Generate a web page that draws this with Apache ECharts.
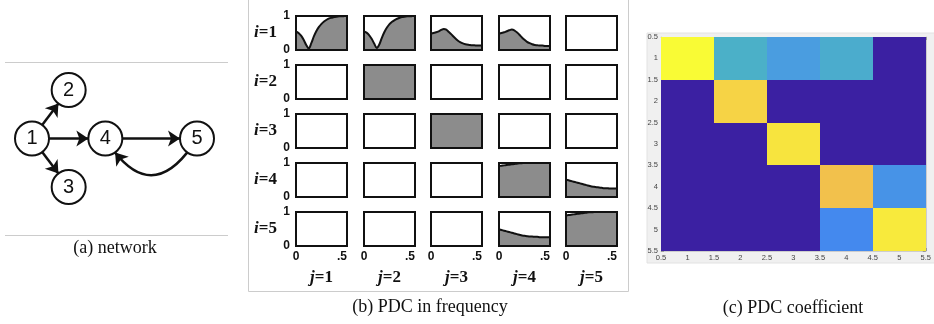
<!DOCTYPE html>
<html>
<head>
<meta charset="utf-8">
<script src="https://cdn.jsdelivr.net/npm/echarts@6/dist/echarts.min.js"></script>
<style>
html, body { margin: 0; padding: 0; background: #fff; }
#chart { width: 934px; height: 324px; }
</style>
</head>
<body>
<div id="chart"></div>
<script>
// (a) network: node layout in graph units, edges as [from, to]
var nodeNames = ['1', '2', '3', '4', '5'];
var nodeX = [0, 1, 1, 2, 4.5];
var nodeY = [1, 2, 0, 1, 1];
var edges = [[0, 1], [0, 2], [0, 3], [3, 4], [4, 3]];

// (b) PDC in frequency
var freq = [0, 0.025, 0.05, 0.075, 0.1, 0.125, 0.15, 0.175, 0.2, 0.225, 0.25,
  0.275, 0.3, 0.325, 0.35, 0.375, 0.4, 0.425, 0.45, 0.475, 0.5];
var pdc11 = [0.55, 0.50, 0.42, 0.30, 0.15, 0.04, 0.20, 0.40, 0.56, 0.68, 0.77,
  0.84, 0.89, 0.93, 0.95, 0.97, 0.98, 0.99, 0.99, 1.0, 1.0];
var pdc12 = [0.55, 0.51, 0.44, 0.33, 0.19, 0.06, 0.16, 0.36, 0.53, 0.66, 0.76,
  0.83, 0.88, 0.92, 0.95, 0.97, 0.98, 0.99, 0.99, 1.0, 1.0];
var pdc13 = [0.48, 0.50, 0.52, 0.55, 0.59, 0.62, 0.60, 0.53, 0.46, 0.38, 0.31,
  0.25, 0.21, 0.18, 0.16, 0.15, 0.14, 0.14, 0.13, 0.13, 0.13];
var pdc14 = [0.48, 0.50, 0.52, 0.55, 0.58, 0.60, 0.58, 0.52, 0.45, 0.37, 0.30,
  0.24, 0.20, 0.17, 0.15, 0.14, 0.13, 0.13, 0.12, 0.12, 0.12];
var pdc44 = [0.91, 0.92, 0.93, 0.94, 0.95, 0.96, 0.97, 0.98, 0.99, 0.995, 1.0,
  1.0, 1.0, 1.0, 1.0, 1.0, 1.0, 1.0, 1.0, 1.0, 1.0];
var pdc45 = [0.51, 0.49, 0.47, 0.45, 0.43, 0.41, 0.39, 0.37, 0.35, 0.33, 0.31,
  0.30, 0.29, 0.28, 0.27, 0.26, 0.26, 0.25, 0.25, 0.25, 0.25];
var pdc54 = [0.49, 0.47, 0.45, 0.43, 0.41, 0.39, 0.37, 0.35, 0.33, 0.31, 0.30,
  0.29, 0.28, 0.28, 0.27, 0.27, 0.26, 0.26, 0.26, 0.26, 0.26];
var pdc55 = [0.90, 0.91, 0.92, 0.93, 0.94, 0.95, 0.96, 0.97, 0.98, 0.99, 0.99,
  1.0, 1.0, 1.0, 1.0, 1.0, 1.0, 1.0, 1.0, 1.0, 1.0];
var pdcOne = [1, 1, 1, 1, 1, 1, 1, 1, 1, 1, 1, 1, 1, 1, 1, 1, 1, 1, 1, 1, 1];
var pdcZero = [0, 0, 0, 0, 0, 0, 0, 0, 0, 0, 0, 0, 0, 0, 0, 0, 0, 0, 0, 0, 0];
var pdcCells = [
  [pdc11, pdc12, pdc13, pdc14, pdcZero],
  [pdcZero, pdcOne, pdcZero, pdcZero, pdcZero],
  [pdcZero, pdcZero, pdcOne, pdcZero, pdcZero],
  [pdcZero, pdcZero, pdcZero, pdc44, pdc45],
  [pdcZero, pdcZero, pdcZero, pdc54, pdc55]
];

// (c) PDC coefficient matrix, row i, column j
var coeff1 = [1.0, 0.50, 0.40, 0.48, 0];
var coeff2 = [0, 0.93, 0, 0, 0];
var coeff3 = [0, 0, 0.96, 0, 0];
var coeff4 = [0, 0, 0, 0.89, 0.35];
var coeff5 = [0, 0, 0, 0.30, 0.97];
var coeffRows = [coeff1, coeff2, coeff3, coeff4, coeff5];
var coeffTicks = [0.5, 5.5];

var chart = echarts.init(document.getElementById('chart'), null, { renderer: 'canvas' });

var grids = [], xAxes = [], yAxes = [], series = [];

// panel (a)
grids.push({ left: 32, top: 90, width: 165, height: 97 });
xAxes.push({ gridIndex: 0, type: 'value', min: 0, max: 4.5, show: false });
yAxes.push({ gridIndex: 0, type: 'value', min: 0, max: 2, show: false });
series.push({
  type: 'graph',
  coordinateSystem: 'cartesian2d',
  xAxisIndex: 0,
  yAxisIndex: 0,
  symbol: 'circle',
  symbolSize: 34,
  itemStyle: { color: '#fff', borderColor: '#111', borderWidth: 2 },
  label: { show: true, position: 'inside', formatter: '{b}', fontSize: 20,
    fontFamily: 'Liberation Sans', color: '#111' },
  edgeSymbol: ['none', 'arrow'],
  edgeSymbolSize: 12,
  lineStyle: { color: '#111', width: 2.5, opacity: 1 },
  data: nodeNames.map(function (n, k) { return { name: n, value: [nodeX[k], nodeY[k]] }; }),
  links: edges.map(function (e) {
    var back = e[0] > e[1];
    return { source: e[0], target: e[1], lineStyle: { curveness: back ? 0.8 : 0 } };
  }),
  silent: true,
  animation: false
});

// panel (b): 5 x 5 small plots
var colLeft = [296, 364, 431, 499, 566];
var rowTop = [16, 65, 114, 163, 212];
var serifName = { fontFamily: 'Liberation Serif', fontWeight: 'bold', fontSize: 17, color: '#111' };
for (var r = 0; r < 5; r++) {
  for (var c = 0; c < 5; c++) {
    var g = grids.length;
    grids.push({ left: colLeft[c], top: rowTop[r], width: 51, height: 34,
      show: true, borderColor: '#111', borderWidth: 2, z: 5 });
    xAxes.push({
      gridIndex: g, type: 'value', min: 0, max: 0.5, interval: 0.5,
      axisLine: { show: false }, axisTick: { show: false }, splitLine: { show: false },
      axisLabel: { show: r === 4, margin: 5, fontSize: 12, fontWeight: 'bold',
        fontFamily: 'Liberation Sans', color: '#111', alignMaxLabel: 'right',
        formatter: function (v) { return v === 0 ? '0' : '.5'; } },
      name: r === 4 ? '{it|j}{up|=' + (c + 1) + '}' : '',
      nameLocation: 'middle', nameGap: 23,
      nameTextStyle: Object.assign({}, serifName, { rich: {
        it: Object.assign({ fontStyle: 'italic' }, serifName),
        up: serifName } })
    });
    yAxes.push({
      gridIndex: g, type: 'value', min: 0, max: 1, interval: 1,
      axisLine: { show: false }, axisTick: { show: false }, splitLine: { show: false },
      axisLabel: { show: c === 0, margin: 6, fontSize: 12, fontWeight: 'bold',
        fontFamily: 'Liberation Sans', color: '#111' },
      name: c === 0 ? '{it|i}{up|=' + (r + 1) + '}' : '',
      nameLocation: 'middle', nameRotate: 0, nameGap: 19,
      nameTextStyle: Object.assign({}, serifName, { align: 'right', rich: {
        it: Object.assign({ fontStyle: 'italic' }, serifName),
        up: serifName } })
    });
    var vals = pdcCells[r][c];
    series.push({
      type: 'line', xAxisIndex: g, yAxisIndex: g,
      data: freq.map(function (f, n) { return [f, vals[n]]; }),
      showSymbol: false, smooth: 0.3,
      lineStyle: { color: '#111', width: 2 },
      areaStyle: { color: '#8c8c8c', opacity: 1 },
      silent: true, animation: false
    });
  }
}

// panel (c): coefficient image
var gc = grids.length;
grids.push({ left: 661, top: 37, width: 271, height: 214 });
var tickFont = { fontSize: 7.5, color: '#444', fontFamily: 'Liberation Sans' };
var xc = xAxes.length;
xAxes.push({
  gridIndex: gc, type: 'value', min: coeffTicks[0], max: coeffTicks[1], interval: 0.5, position: 'bottom',
  axisLine: { show: true, lineStyle: { color: '#aaa', width: 0.5 } },
  axisTick: { show: true, inside: true, length: 3, lineStyle: { color: '#777', width: 0.6 } },
  splitLine: { show: false },
  axisLabel: Object.assign({ margin: 3 }, tickFont)
});
xAxes.push({
  gridIndex: gc, type: 'value', min: coeffTicks[0], max: coeffTicks[1], interval: 0.5, position: 'top',
  axisLine: { show: true, lineStyle: { color: '#aaa', width: 0.5 } },
  axisTick: { show: true, inside: true, length: 3, lineStyle: { color: '#777', width: 0.6 } },
  splitLine: { show: false }, axisLabel: { show: false }
});
var yc = yAxes.length;
yAxes.push({
  gridIndex: gc, type: 'value', min: coeffTicks[0], max: coeffTicks[1], interval: 0.5, inverse: true,
  axisLine: { show: true, lineStyle: { color: '#aaa', width: 0.5 } },
  axisTick: { show: true, inside: true, length: 3, lineStyle: { color: '#777', width: 0.6 } },
  splitLine: { show: false },
  axisLabel: Object.assign({ margin: 3 }, tickFont)
});
yAxes.push({
  gridIndex: gc, type: 'value', min: coeffTicks[0], max: coeffTicks[1], interval: 0.5, inverse: true,
  position: 'right',
  axisLine: { show: true, lineStyle: { color: '#aaa', width: 0.5 } },
  axisTick: { show: true, inside: true, length: 3, lineStyle: { color: '#777', width: 0.6 } },
  splitLine: { show: false }, axisLabel: { show: false }
});
var cells = [];
coeffRows.forEach(function (row, i) {
  row.forEach(function (v, j) { cells.push([j + 1, i + 1, v]); });
});
var heatIndex = series.length;
series.push({
  type: 'custom', xAxisIndex: xc, yAxisIndex: yc,
  encode: { x: 0, y: 1 },
  data: cells,
  renderItem: function (params, api) {
    var p0 = api.coord([api.value(0) - 0.5, api.value(1) - 0.5]);
    var p1 = api.coord([api.value(0) + 0.5, api.value(1) + 0.5]);
    var x0 = Math.round(Math.min(p0[0], p1[0])), x1 = Math.round(Math.max(p0[0], p1[0]));
    var y0 = Math.round(Math.min(p0[1], p1[1])), y1 = Math.round(Math.max(p0[1], p1[1]));
    return {
      type: 'rect',
      shape: { x: x0, y: y0, width: x1 - x0, height: y1 - y0 },
      style: { fill: api.visual('color') }
    };
  },
  silent: true, animation: false
});

chart.setOption({
  animation: false,
  backgroundColor: '#fff',
  grid: grids,
  xAxis: xAxes,
  yAxis: yAxes,
  visualMap: {
    show: false, type: 'continuous', seriesIndex: heatIndex, dimension: 2, min: 0, max: 1,
    inRange: { color: ['#3b20a2', '#4036cf', '#4563ea', '#4489ee', '#4a9de0', '#4bb0c8',
      '#52bca0', '#90c070', '#d8bc50', '#f5c24c', '#f9fb35'] }
  },
  graphic: [
    { type: 'line', z: -10, shape: { x1: 5, y1: 62.5, x2: 228, y2: 62.5 }, style: { stroke: '#ccc', lineWidth: 1 } },
    { type: 'line', z: -10, shape: { x1: 5, y1: 235.5, x2: 228, y2: 235.5 }, style: { stroke: '#ccc', lineWidth: 1 } },
    { type: 'rect', z: -10, shape: { x: 248.5, y: -2, width: 380, height: 293.5 }, style: { fill: 'none', stroke: '#ccc', lineWidth: 1 } },
    { type: 'rect', z: -10, shape: { x: 647, y: 33, width: 290, height: 230 }, style: { fill: '#f0f0f0', stroke: '#e2e2e2' } },
    { type: 'text', x: 115, y: 248, style: { text: '(a) network', fill: '#111', font: '18px "Liberation Serif"', textAlign: 'center', textVerticalAlign: 'middle' } },
    { type: 'text', x: 430, y: 307, style: { text: '(b) PDC in frequency', fill: '#111', font: '18px "Liberation Serif"', textAlign: 'center', textVerticalAlign: 'middle' } },
    { type: 'text', x: 793, y: 308, style: { text: '(c) PDC coefficient', fill: '#111', font: '18px "Liberation Serif"', textAlign: 'center', textVerticalAlign: 'middle' } }
  ],
  series: series
});
</script>
</body>
</html>
